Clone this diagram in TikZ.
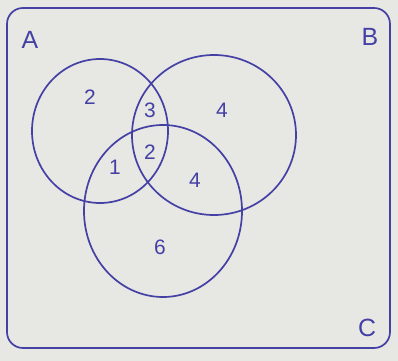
\documentclass[tikz,border=0pt]{standalone}
\usepackage{fontspec}
\setmainfont{Liberation Sans}
\usetikzlibrary{shapes.geometric}

\begin{document}
\begin{tikzpicture}[x=1bp,y=1bp,every node/.style={inner sep=0},
  venn/.style={draw=ink,line width=1.7bp,ellipse,fill=none},
  setname/.style={font=\fontsize{25}{27}\selectfont,text=ink},
  count/.style={font=\fontsize{21}{23}\selectfont,text=ink}]
\definecolor{ink}{HTML}{4440A4}
\definecolor{paper}{HTML}{E7E7E4}
\path[use as bounding box,fill=paper] (0,0) rectangle (398,361);
\node[draw=ink,line width=1.7bp,rounded corners=16,minimum width=383bp,minimum height=340bp] (U) at (198.5,183) {};
% the three sets
\node[venn,minimum width=136bp,minimum height=144bp] (A) at (100,230) {};
\node[venn,minimum width=164bp,minimum height=160bp] (B) at (214,226) {};
\node[venn,minimum width=158bp,minimum height=172bp] (C) at (163,150) {};
\node[setname] (lA) at (30,321) {A};
\node[setname] (lB) at (370,324) {B};
\node[setname] (lC) at (367,33) {C};
% region counts
\node[count] (onlyA) at (90,264) {2};
\node[count] (AB) at (150,251) {3};
\node[count] (onlyB) at (222,251) {4};
\node[count] (ABC) at (150,209) {2};
\node[count] (AC) at (115,194) {1};
\node[count] (BC) at (195,181) {4};
\node[count] (onlyC) at (160,114) {6};
\end{tikzpicture}
\end{document}
